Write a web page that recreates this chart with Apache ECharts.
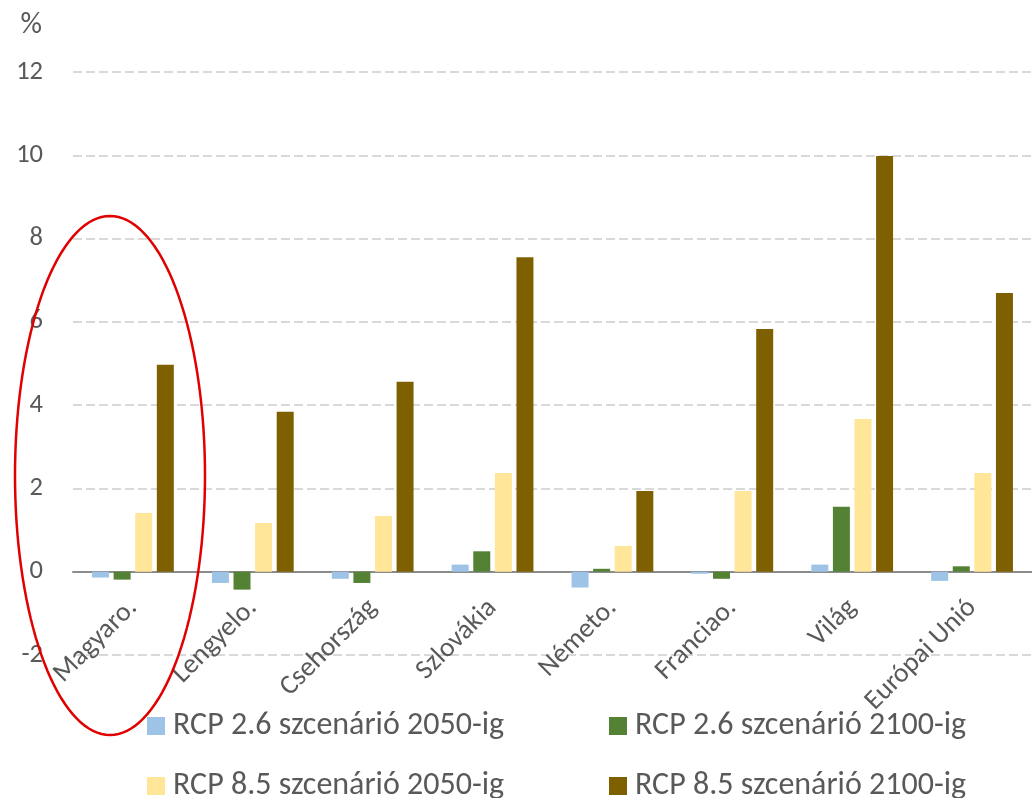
<!DOCTYPE html>
<html>
<head>
<meta charset="utf-8">
<script src="https://cdn.jsdelivr.net/npm/echarts@6/dist/echarts.min.js"></script>
<style>
  html, body { margin: 0; padding: 0; background: #fff; }
  #chart { width: 1032px; height: 798px; }
</style>
</head>
<body>
<div id="chart"></div>
<script>
const categories = ['Magyaro.', 'Lengyelo.', 'Csehország', 'Szlovákia', 'Németo.', 'Franciao.', 'Világ', 'Európai Unió'];
const seriesNames = ['RCP 2.6 szcenárió 2050-ig', 'RCP 2.6 szcenárió 2100-ig', 'RCP 8.5 szcenárió 2050-ig', 'RCP 8.5 szcenárió 2100-ig'];
const rcp26_2050 = [-0.14, -0.27, -0.17, 0.17, -0.38, -0.05, 0.17, -0.22];
const rcp26_2100 = [-0.19, -0.43, -0.27, 0.49, 0.07, -0.17, 1.56, 0.13];
const rcp85_2050 = [1.41, 1.17, 1.34, 2.37, 0.62, 1.94, 3.67, 2.37];
const rcp85_2100 = [4.97, 3.84, 4.56, 7.55, 1.94, 5.83, 9.98, 6.69];
const yTicks = [-2, 0, 2, 4, 6, 8, 10, 12];

const FONT = 'Carlito, Lato, sans-serif';
const TXT = '#595959';
const colors = ['#9dc3e6', '#548235', '#ffe699', '#7f6000'];
const values = [rcp26_2050, rcp26_2100, rcp85_2050, rcp85_2100];

const chart = echarts.init(document.getElementById('chart'), null, { renderer: 'canvas' });

const gridTop = 72, gridBottom = 143, H = 798;
const plotH = H - gridTop - gridBottom;
const yMin = yTicks[0], yMax = yTicks[yTicks.length - 1];
// distance from bottom of grid up to the zero line
const zeroOffset = plotH * (0 - yMin) / (yMax - yMin);

// ellipse annotation points (pixel space)
const ell = [];
const cx = 110, cy = 475.5, rx = 95, ry = 259.5;
for (let i = 0; i <= 140; i++) {
  const t = i / 140 * Math.PI * 2;
  ell.push([cx + rx * Math.cos(t), cy + ry * Math.sin(t)]);
}

const legendPos = [[147, 708], [609, 708], [147, 768], [609, 768]];

const option = {
  animation: false,
  backgroundColor: '#fff',
  color: colors,
  grid: { left: 73, right: 0, top: gridTop, bottom: gridBottom, containLabel: false },
  legend: seriesNames.map((n, i) => ({
    data: [n],
    left: legendPos[i][0],
    top: legendPos[i][1],
    padding: 0,
    itemWidth: 18,
    itemHeight: 18,
    icon: 'rect',
    selectedMode: false,
    textStyle: { fontFamily: FONT, fontSize: 32, color: TXT, lineHeight: 36, padding: [0, 0, 0, 3] }
  })),
  xAxis: [{
    type: 'category',
    data: categories,
    axisLine: { onZero: true, lineStyle: { color: '#8c8c8c', width: 2 } },
    axisTick: { show: false },
    axisLabel: { show: false }
  }, {
    type: 'category',
    data: categories,
    position: 'bottom',
    offset: -zeroOffset,
    axisLine: { show: false },
    axisTick: { show: false },
    axisLabel: { interval: 0, rotate: 45, margin: 32, fontFamily: FONT, fontSize: 27.5, color: TXT }
  }],
  yAxis: {
    type: 'value',
    min: yMin,
    max: yMax,
    interval: 2,
    name: '%',
    nameLocation: 'end',
    nameGap: 32,
    nameTextStyle: { fontFamily: FONT, fontSize: 30, color: TXT, align: 'right', padding: [0, 31, 0, 0] },
    axisLine: { show: false },
    axisTick: { show: false },
    axisLabel: { margin: 30, fontFamily: FONT, fontSize: 26.5, color: TXT },
    splitLine: { lineStyle: { color: '#d9d9d9', width: 2, type: [9, 4] } }
  },
  series: seriesNames.map((n, i) => ({
    name: n,
    type: 'bar',
    xAxisIndex: 0,
    data: values[i],
    barWidth: 17,
    barGap: '27%',
    itemStyle: { color: colors[i] }
  })),
  graphic: [{
    type: 'polyline',
    shape: { points: ell },
    style: { stroke: '#e00000', lineWidth: 2.5, fill: null },
    z: 100
  }]
};
chart.setOption(option);
</script>
</body>
</html>
